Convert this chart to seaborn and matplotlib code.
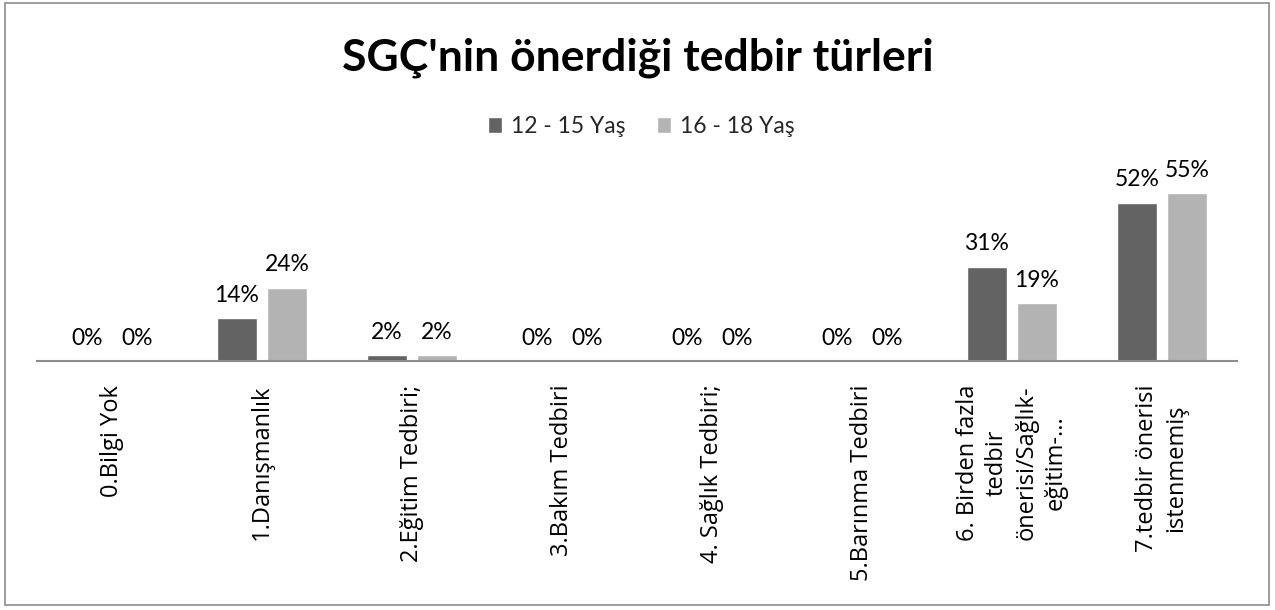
import matplotlib
matplotlib.use("Agg")
import matplotlib.pyplot as plt
from matplotlib.patches import Rectangle
import pandas as pd
import seaborn as sns

categories = [
    "0.Bilgi Yok",
    "1.Danışmanlık",
    "2.Eğitim Tedbiri;",
    "3.Bakım Tedbiri",
    "4. Sağlık Tedbiri;",
    "5.Barınma Tedbiri",
    "6. Birden fazla\ntedbir\nönerisi/Sağlık-\neğitim-...",
    "7.tedbir önerisi\nistenmemiş",
]
series_names = ["12 - 15 Yaş", "16 - 18 Yaş"]
age_12_15 = [0, 14, 2, 0, 0, 0, 31, 52]
age_16_18 = [0, 24, 2, 0, 0, 0, 19, 55]
title = "SGÇ'nin önerdiği tedbir türleri"

df = pd.DataFrame({
    "kategori": categories * 2,
    "grup": [series_names[0]] * len(categories) + [series_names[1]] * len(categories),
    "oran": age_12_15 + age_16_18,
})

sns.set_theme(style="white")
plt.rcParams["font.family"] = ["Lato", "DejaVu Sans"]

fig = plt.figure(figsize=(12.75, 6.10), dpi=100)
ax = fig.add_axes([0.029, 0.408, 0.941, 0.300])

palette = {series_names[0]: "#636363", series_names[1]: "#b3b3b3"}
sns.barplot(data=df, x="kategori", y="oran", hue="grup", order=categories,
            hue_order=series_names, palette=palette, width=0.667, gap=0.2,
            saturation=1, ax=ax, legend=True)

for cont in ax.containers:
    vals = [b.get_height() for b in cont]
    ax.bar_label(cont, labels=[f"{v:.0f}%" for v in vals], padding=9,
                 fontsize=16.5, color="#000000")

ax.set_ylim(0, 60)
ax.set_xlim(-0.5, len(categories) - 0.5)
ax.set_xlabel("")
ax.set_ylabel("")
ax.set_yticks([])
for side in ["left", "right", "top"]:
    ax.spines[side].set_visible(False)
ax.spines["bottom"].set_color("#8c8c8c")
ax.spines["bottom"].set_linewidth(1.5)
ax.tick_params(axis="x", length=0, pad=17)
ax.set_xticks(range(len(categories)))
ax.set_xticklabels(categories, family=["Open Sans", "DejaVu Sans"], fontsize=17,
                   rotation=90, ha="center", va="top", multialignment="center",
                   linespacing=1.3, color="#000000")

handles, labels = ax.get_legend_handles_labels()
ax.get_legend().remove()
fig.legend(handles, labels, loc="center", bbox_to_anchor=(0.503, 0.792), ncol=2,
           frameon=False, fontsize=16.5, handlelength=0.6, handleheight=0.7,
           handletextpad=0.4, columnspacing=1.4)

fig.text(0.5, 0.905, title, ha="center", va="center", fontsize=32,
         fontweight="bold", color="#000000")

fig.patches.append(Rectangle((0.004, 0.008), 0.991, 0.987, transform=fig.transFigure,
                             fill=False, edgecolor="#8c8c8c", linewidth=1.2))

fig.savefig("out.png", dpi=100, facecolor="white")
